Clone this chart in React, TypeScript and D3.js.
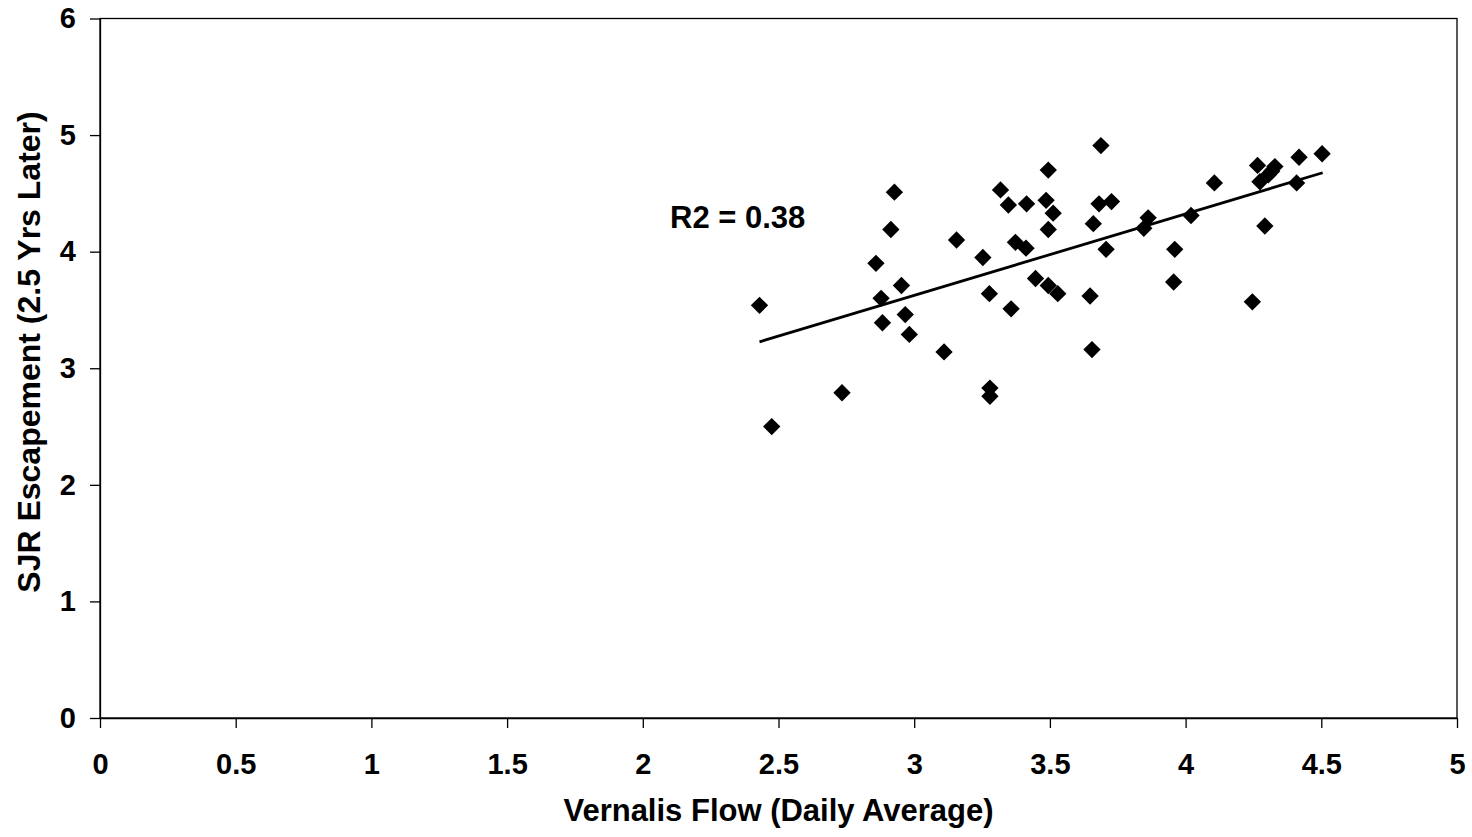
import React, { useEffect, useRef } from 'react';
import * as d3 from 'd3';

// Vernalis flow (daily average) vs SJR escapement 2.5 years later
const flow = [
  2.43, 2.475, 2.734, 2.859, 2.878, 2.883, 2.914, 2.927, 2.953, 2.967, 2.982,
  3.11, 3.156, 3.253, 3.277, 3.279, 3.279, 3.318, 3.347, 3.357, 3.373, 3.412,
  3.414, 3.447, 3.494, 3.529, 3.494, 3.486, 3.512, 3.494, 3.648, 3.655, 3.66,
  3.688, 3.681, 3.727, 3.707, 3.862, 3.846, 4.02, 3.96, 3.956, 4.106, 4.246,
  4.265, 4.274, 4.305, 4.317, 4.329, 4.292, 4.418, 4.409, 4.503,
];
const escapement = [
  3.54, 2.5, 2.79, 3.9, 3.6, 3.39, 4.19, 4.51, 3.71, 3.46, 3.29,
  3.14, 4.1, 3.95, 3.64, 2.83, 2.76, 4.53, 4.4, 3.51, 4.08, 4.03,
  4.41, 3.77, 3.71, 3.64, 4.7, 4.44, 4.33, 4.19, 3.62, 3.16, 4.24,
  4.91, 4.41, 4.43, 4.02, 4.29, 4.2, 4.31, 4.02, 3.74, 4.59, 3.57,
  4.74, 4.6, 4.66, 4.69, 4.73, 4.22, 4.81, 4.59, 4.84,
];

// linear trendline end points
const trendFlow = [2.43, 4.505];
const trendEscapement = [3.227, 4.677];
const r2Label = 'R2 = 0.38';

const xTicks = [0, 0.5, 1, 1.5, 2, 2.5, 3, 3.5, 4, 4.5, 5];
const yTicks = [0, 1, 2, 3, 4, 5, 6];
const xTitle = 'Vernalis Flow (Daily Average)';
const yTitle = 'SJR Escapement (2.5 Yrs Later)';

export default function App() {
  const chartRef = useRef<SVGSVGElement>(null);

  useEffect(() => {
    const width = 1472,
          height = 837;
    const left = 100, right = 1457, top = 18.5, bottom = 718;
    const font = 'Arial, "Liberation Sans", Helvetica, sans-serif';

    const svg = d3.select(chartRef.current)
      .attr('width', width)
      .attr('height', height);
    svg.selectAll('*').remove();

    const x = d3.scaleLinear().domain([0, 5]).range([left, right]);
    const y = d3.scaleLinear().domain([0, 6]).range([bottom, top]);

    // plot frame
    svg.append('rect')
      .attr('x', left)
      .attr('y', top)
      .attr('width', right - left)
      .attr('height', bottom - top)
      .attr('fill', 'none')
      .attr('stroke', '#000')
      .attr('stroke-width', 1.3);

    const xAxis = svg.append('g')
      .attr('transform', `translate(0,${bottom})`)
      .call(d3.axisBottom(x)
        .tickValues(xTicks)
        .tickSize(10)
        .tickSizeOuter(0)
        .tickPadding(25)
        .tickFormat((d) => String(d)));

    const yAxis = svg.append('g')
      .attr('transform', `translate(${left},0)`)
      .call(d3.axisLeft(y)
        .tickValues(yTicks)
        .tickSize(10)
        .tickSizeOuter(0)
        .tickPadding(14)
        .tickFormat((d) => String(d)));

    [xAxis, yAxis].forEach((ax) => {
      ax.select('.domain').attr('stroke', '#000').attr('stroke-width', 1.3);
      ax.selectAll('.tick line').attr('stroke', '#000').attr('stroke-width', 1.3);
      ax.selectAll('.tick text')
        .attr('fill', '#000')
        .style('font-family', font)
        .style('font-weight', 'bold')
        .style('font-size', '29px');
    });

    // data points
    const pts = flow.map((f, i) => ({ f, e: escapement[i] }));
    svg.append('g')
      .selectAll('path')
      .data(pts)
      .enter()
        .append('path')
          .attr('d', d3.symbol(d3.symbolSquare, 150)())
          .attr('transform', (d) => `translate(${x(d.f)},${y(d.e)}) rotate(45)`)
          .attr('fill', '#000');

    // trendline
    const trend = trendFlow.map((f, i) => [f, trendEscapement[i]] as [number, number]);
    svg.append('path')
      .datum(trend)
      .attr('d', d3.line<[number, number]>()
        .x((d) => x(d[0]))
        .y((d) => y(d[1])))
      .attr('fill', 'none')
      .attr('stroke', '#000')
      .attr('stroke-width', 2.8);

    svg.append('text')
      .attr('x', 670)
      .attr('y', 228)
      .style('font-family', font)
      .style('font-weight', 'bold')
      .style('font-size', '31px')
      .text(r2Label);

    svg.append('text')
      .attr('x', (left + right) / 2)
      .attr('y', 821)
      .attr('text-anchor', 'middle')
      .style('font-family', font)
      .style('font-weight', 'bold')
      .style('font-size', '31px')
      .text(xTitle);

    svg.append('text')
      .attr('transform', `translate(40,352) rotate(-90)`)
      .attr('text-anchor', 'middle')
      .style('font-family', font)
      .style('font-weight', 'bold')
      .style('font-size', '32px')
      .text(yTitle);
  }, []);

  return (
    <svg
      ref={chartRef}
      style={{ position: 'absolute', left: 0, top: 0, background: '#fff' }}
    ></svg>
  );
}
